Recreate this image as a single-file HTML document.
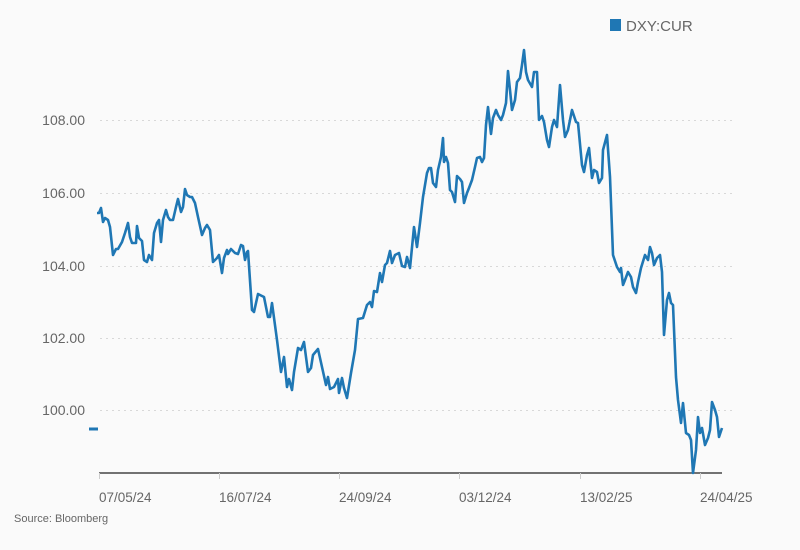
<!DOCTYPE html>
<html><head><meta charset="utf-8"><style>
body{margin:0;background:#fafafa;}
svg{display:block;font-family:"Liberation Sans",sans-serif;}
</style></head><body>
<svg width="800" height="550" viewBox="0 0 800 550">
<rect width="800" height="550" fill="#fafafa"/>
<g stroke="#d8d8d8" stroke-dasharray="2,4" stroke-width="1">
<line x1="100" y1="120.5" x2="736" y2="120.5"/>
<line x1="100" y1="193.5" x2="736" y2="193.5"/>
<line x1="100" y1="266.5" x2="736" y2="266.5"/>
<line x1="100" y1="338.5" x2="736" y2="338.5"/>
<line x1="100" y1="410.5" x2="736" y2="410.5"/>
</g>
<g fill="#666" font-size="14" text-anchor="end">
<text x="85" y="125">108.00</text>
<text x="85" y="198">106.00</text>
<text x="85" y="271">104.00</text>
<text x="85" y="343">102.00</text>
<text x="85" y="415">100.00</text>
</g>
<line x1="89" y1="429" x2="98" y2="429" stroke="#1f77b4" stroke-width="3"/>
<line x1="99" y1="473" x2="722" y2="473" stroke="#222" stroke-width="1.2"/>
<g stroke="#ccc" stroke-width="1">
<line x1="99.5" y1="473" x2="99.5" y2="479"/><line x1="219.5" y1="473" x2="219.5" y2="479"/>
<line x1="339.5" y1="473" x2="339.5" y2="479"/><line x1="459.5" y1="473" x2="459.5" y2="479"/>
<line x1="580.5" y1="473" x2="580.5" y2="479"/><line x1="700.5" y1="473" x2="700.5" y2="479"/>
</g>
<g fill="#666" font-size="13.5">
<text x="99" y="502">07/05/24</text><text x="219" y="502">16/07/24</text>
<text x="339" y="502">24/09/24</text><text x="459" y="502">03/12/24</text>
<text x="580" y="502">13/02/25</text><text x="700" y="502">24/04/25</text>
</g>
<text x="14" y="522" fill="#666" font-size="11">Source: Bloomberg</text>
<rect x="610" y="19" width="11" height="12" fill="#1f77b4"/>
<text x="626" y="31" fill="#666" font-size="15">DXY:CUR</text>
<polyline fill="none" stroke="#1f77b4" stroke-width="2.6" stroke-linejoin="round" points="
97,213 99,213 101,208 103,222 105,218 108,220 110,227 113,255 116,249 118,249 122,242 125,233 128,223 130,237 132,243 136,243 137,226 139,238 142,241 144,260 147,262 149,255 152,260 154,233 157,223 159,220 161,242 163,220 166,210 168,217 170,220 173,220 176,207 178,199 181,212 183,207 185,189 187,195 190,197 192,197 195,203 198,217 202,235 205,228 207,225 210,230 213,262 217,258 219,255 222,273 224,258 227,250 228,254 231,249 235,253 238,254 241,245 243,246 245,260 247,252 248,251 252,310 254,312 258,294 264,297 268,317 270,317 272,303 277,340 281,372 284,357 287,387 289,379 292,390 294,372 298,348 301,350 304,342 308,372 311,368 313,355 318,349 322,367 326,385 328,377 330,389 334,387 338,379 339,393 342,378 344,388 347,398 351,373 355,350 358,319 363,318 367,305 370,302 372,307 374,291 377,292 380,273 382,282 385,265 387,263 390,251 392,263 395,255 399,253 402,266 405,267 407,257 410,268 414,227 417,247 420,223 423,197 427,173 429,168 431,168 433,183 436,187 438,170 441,157 443,138 444,162 446,157 448,163 450,190 452,192 455,202 457,176 460,179 462,182 464,203 467,193 469,188 472,180 475,167 477,158 480,157 482,162 484,158 486,125 488,107 491,134 493,118 496,110 498,115 501,120 503,115 506,103 508,71 510,90 512,110 515,100 517,82 520,78 522,65 524,50 526,72 528,80 532,87 534,72 537,72 539,120 542,116 544,122 547,140 549,147 552,127 554,120 557,127 560,85 563,120 565,137 568,130 572,110 576,122 578,123 582,165 584,172 587,155 589,148 592,178 594,170 597,172 599,183 602,178 603,150 607,135 610,177 613,255 617,267 620,272 621,268 623,285 625,280 628,272 631,277 633,287 636,293 638,282 641,268 645,255 648,260 650,247 652,253 654,265 657,258 660,255 662,272 664,335 667,300 669,293 671,303 673,305 676,377 678,400 681,423 683,403 686,433 689,435 691,440 693,473 696,450 698,417 700,433 702,428 705,445 708,438 710,430 712,402 715,410 717,417 719,437 722,428"/>
</svg>
</body></html>
